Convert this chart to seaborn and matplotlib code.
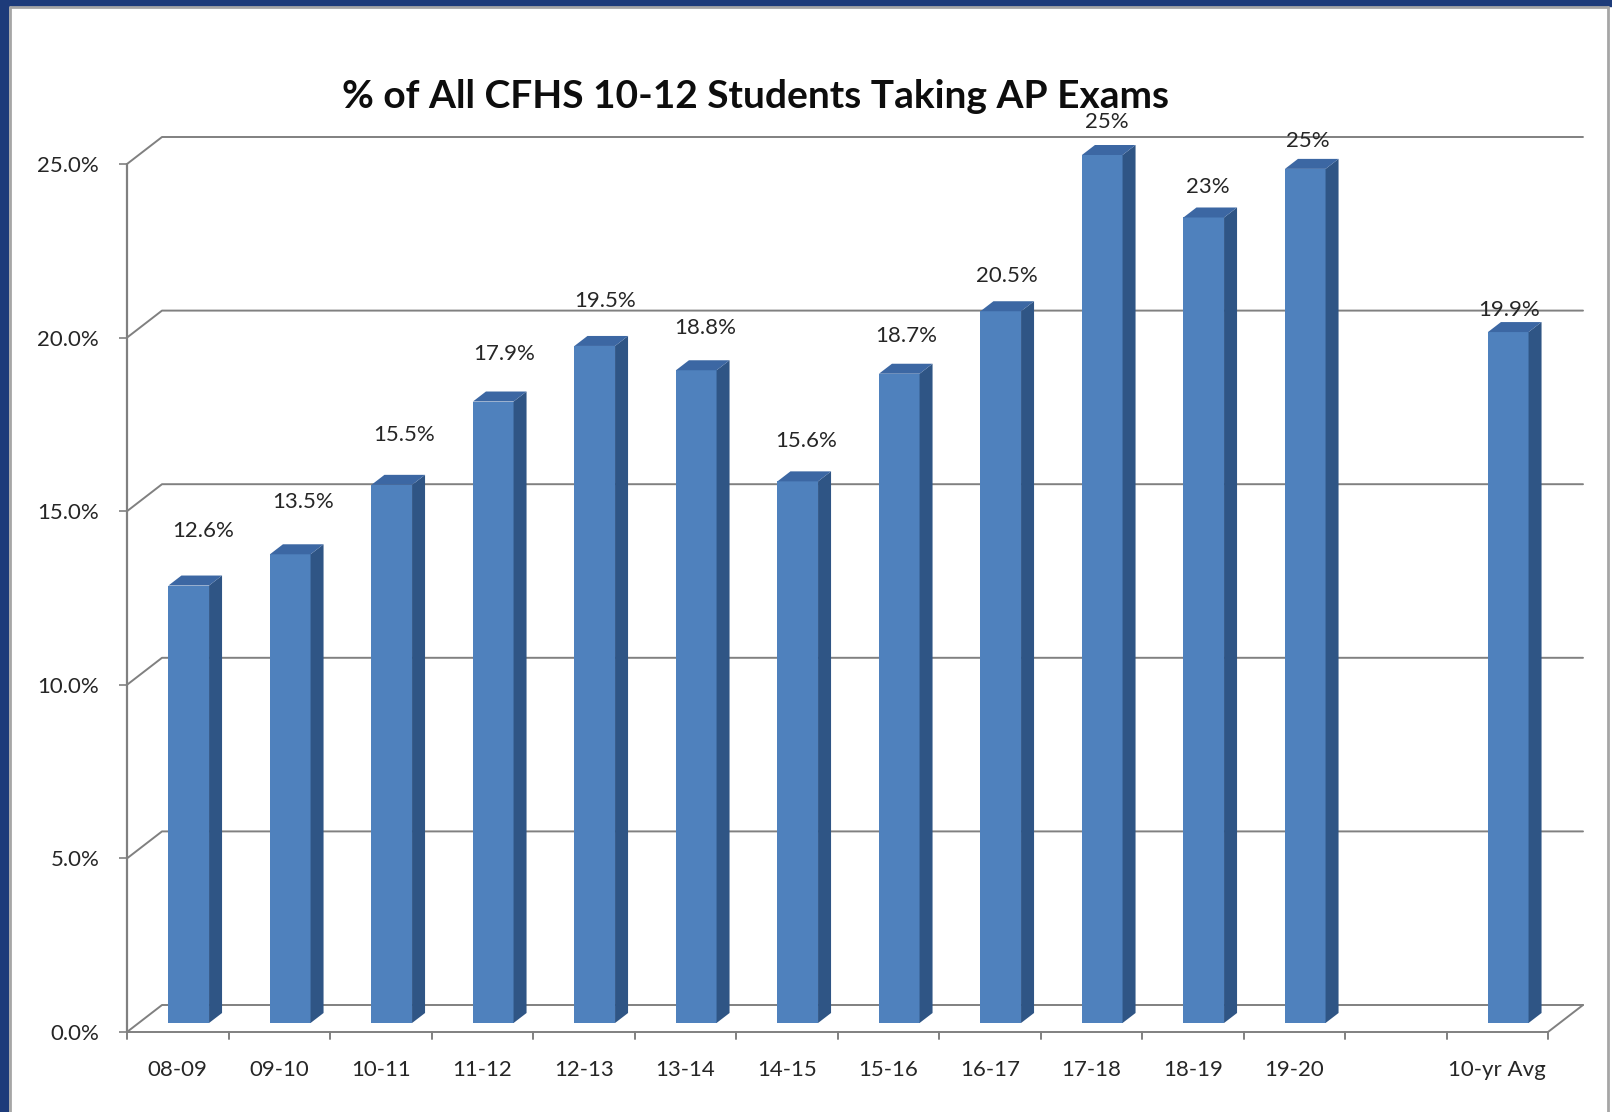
import numpy as np
import pandas as pd
import matplotlib
matplotlib.use("Agg")
import matplotlib.pyplot as plt
from matplotlib.patches import Polygon, Rectangle
import seaborn as sns

# ---- data ----
categories = ["08-09", "09-10", "10-11", "11-12", "12-13", "13-14", "14-15",
              "15-16", "16-17", "17-18", "18-19", "19-20", "", "10-yr Avg"]
values = [12.6, 13.5, 15.5, 17.9, 19.5, 18.8, 15.6, 18.7, 20.5, 25.0, 23.2, 24.6, np.nan, 19.9]
labels = ["12.6%", "13.5%", "15.5%", "17.9%", "19.5%", "18.8%", "15.6%",
          "18.7%", "20.5%", "25%", "23%", "25%", "", "19.9%"]
yticks = [0, 5, 10, 15, 20, 25]
ytick_labels = ["0.0%", "5.0%", "10.0%", "15.0%", "20.0%", "25.0%"]
title = "% of All CFHS 10-12 Students Taking AP Exams"

df = pd.DataFrame({"cat": categories, "val": values})

sns.set_theme(style="white")
plt.rcParams["font.family"] = ["Lato", "DejaVu Sans"]

W, H = 1612, 1112
fig = plt.figure(figsize=(W / 100, H / 100), dpi=100, facecolor="white")

# border decoration (blue frame on left/top, grey panel outline)
blue = "#1d3b7a"
fig.patches.append(Rectangle((0, 0), 8 / W, 1, transform=fig.transFigure, color=blue, zorder=0))
fig.patches.append(Rectangle((0, 1 - 6 / H), 1, 6 / H, transform=fig.transFigure, color=blue, zorder=0))
fig.lines.append(plt.Line2D([10 / W, 10 / W], [0, 1 - 7 / H], transform=fig.transFigure, color="#a6a6a6", lw=2))
fig.lines.append(plt.Line2D([10 / W, 1608 / W], [1 - 7 / H, 1 - 7 / H], transform=fig.transFigure, color="#a6a6a6", lw=2))
fig.lines.append(plt.Line2D([1608 / W, 1608 / W], [0, 1 - 7 / H], transform=fig.transFigure, color="#a6a6a6", lw=2))

# front plane pixel geometry
x0_px, x1_px = 127, 1548
y0_px, y25_px = 1032, 164
ax = fig.add_axes([x0_px / W, 1 - y0_px / H, (x1_px - x0_px) / W, (y0_px - y25_px) / H])
n = len(categories)
ax.set_xlim(-0.5, n - 0.5)
ax.set_ylim(0, 25)
ax.set_facecolor("none")
for s in ax.spines.values():
    s.set_visible(False)

pxx = (x1_px - x0_px) / n          # pixels per category
pxy = (y0_px - y25_px) / 25.0      # pixels per percent
wall_dx, wall_dy = 35 / pxx, 27 / pxy
bar_dx, bar_dy = 11 / pxx, 9 / pxy
dep_dx, dep_dy = 13 / pxx, 10 / pxy

grid_c = "#808080"
# gridlines on back wall + left wall diagonals
for t in yticks:
    ax.plot([-0.5, -0.5 + wall_dx, n - 0.5 + wall_dx], [t, t + wall_dy, t + wall_dy],
            color=grid_c, lw=1.4, clip_on=False, zorder=1)
# floor front edge and right diagonal
ax.plot([-0.5, n - 0.5, n - 0.5 + wall_dx], [0, 0, wall_dy], color=grid_c, lw=1.4, clip_on=False, zorder=1)
# left axis line
ax.plot([-0.5, -0.5], [0, 25], color=grid_c, lw=1.6, clip_on=False, zorder=1)

# bars via seaborn
front_c, side_c, top_c = "#4f81bd", "#2f5585", "#3c67a3"
sns.barplot(data=df, x="cat", y="val", order=categories, color=front_c, saturation=1,
            width=0.40, ax=ax, errorbar=None, zorder=3)
for p in ax.patches:
    h = p.get_height()
    if not np.isfinite(h):
        continue
    x, w = p.get_x() + bar_dx, p.get_width()
    p.set_x(x)
    p.set_y(bar_dy)
    p.set_edgecolor("none")
    top = bar_dy + h
    side = Polygon([(x + w, bar_dy), (x + w + dep_dx, bar_dy + dep_dy),
                    (x + w + dep_dx, top + dep_dy), (x + w, top)],
                   closed=True, facecolor=side_c, edgecolor="none", zorder=3, clip_on=False)
    topf = Polygon([(x, top), (x + dep_dx, top + dep_dy), (x + w + dep_dx, top + dep_dy), (x + w, top)],
                   closed=True, facecolor=top_c, edgecolor="none", zorder=3, clip_on=False)
    ax.add_patch(side)
    ax.add_patch(topf)
    p.set_clip_on(False)

# value labels
for i, (v, lab) in enumerate(zip(values, labels)):
    if not lab:
        continue
    off_px = 55 - 2.5 * i
    xoff_px = 14 - 1.0 * i
    ax.annotate(lab, xy=(i + bar_dx, bar_dy + v), xytext=(xoff_px * 0.72, off_px * 0.72),
                textcoords="offset points", ha="center", va="center",
                fontsize=16, color="#262626", annotation_clip=False, zorder=5)

# ticks
ax.set_yticks(yticks)
ax.set_yticklabels(ytick_labels, fontsize=16, color="#262626")
ax.set_xticks(np.arange(n))
ax.set_xticklabels(categories, fontsize=16, color="#262626")
ax.tick_params(axis="y", length=6, width=1.2, color=grid_c, left=True, pad=14)
ax.tick_params(axis="x", length=0, pad=20)
for b in np.arange(n + 1) - 0.5:
    ax.plot([b, b], [0, -7 / pxy], color=grid_c, lw=1.4, clip_on=False)
ax.set_xlabel("")
ax.set_ylabel("")

fig.text(756 / W, 1 - 96 / H, title, ha="center", va="center", fontsize=28,
         fontweight="bold", color="#0d0d0d")

fig.savefig("out.png", dpi=100, facecolor="white")
